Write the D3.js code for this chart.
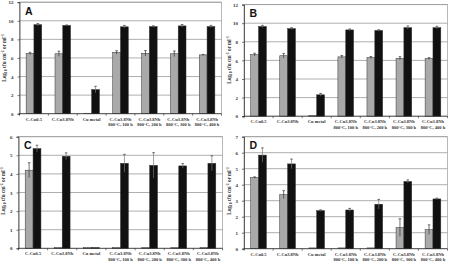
<!DOCTYPE html>
<html>
<head>
<meta charset="utf-8">
<script src="https://cdn.jsdelivr.net/npm/d3@7/dist/d3.min.js"></script>
<style>
body { margin: 0; background: #fff; }
svg text { font-family: "Liberation Serif", "DejaVu Serif", serif; }
</style>
</head>
<body>
<div id="chart"></div>
<script>
chart_width = 450;
chart_height = 263;

categories = [
	['C-Cu0.5'],
	['C-Cu3.8Nb'],
	['Cu metal'],
	['C-Cu3.8Nb', '800°C, 100 h'],
	['C-Cu3.8Nb', '800°C, 200 h'],
	['C-Cu3.8Nb', '800°C, 300 h'],
	['C-Cu3.8Nb', '800°C, 400 h']
];

// panel A
a_grey = [6.48, 6.45, 0.05, 6.6, 6.5, 6.45, 6.33];
a_grey_err = [0.12, 0.28, 0, 0.18, 0.3, 0.3, 0.05];
a_black = [9.58, 9.5, 2.6, 9.35, 9.38, 9.45, 9.38];
a_black_err = [0.12, 0.05, 0.35, 0.15, 0.08, 0.15, 0.12];
a_ticks = [0, 2, 4, 6, 8, 10, 12];

// panel B
b_grey = [6.62, 6.5, 0.05, 6.38, 6.3, 6.22, 6.2];
b_grey_err = [0.15, 0.25, 0, 0.15, 0.12, 0.18, 0.1];
b_black = [9.65, 9.42, 2.3, 9.28, 9.22, 9.52, 9.52];
b_black_err = [0.12, 0.1, 0.15, 0.1, 0.08, 0.18, 0.15];
b_ticks = [0, 2, 4, 6, 8, 10, 12];

// panel C
c_grey = [4.2, 0.04, 0.04, 0.04, 0.04, 0.04, 0.04];
c_grey_err = [0.4, 0, 0, 0, 0, 0, 0];
c_black = [5.36, 4.95, 0.04, 4.57, 4.46, 4.43, 4.57];
c_black_err = [0.18, 0.18, 0, 0.48, 0.68, 0.12, 0.4];
c_ticks = [0, 1, 2, 3, 4, 5, 6];

// panel D
d_grey = [4.45, 3.38, 0.05, 0.05, 0.05, 1.32, 1.19];
d_grey_err = [0.04, 0.25, 0, 0, 0, 0.55, 0.3];
d_black = [5.85, 5.3, 2.38, 2.42, 2.78, 4.2, 3.11];
d_black_err = [0.45, 0.3, 0.05, 0.1, 0.3, 0.1, 0.05];
d_ticks = [0, 1, 2, 3, 4, 5, 6, 7];

panels = [
	{ letter: 'A', grey: a_grey, grey_err: a_grey_err, black: a_black, black_err: a_black_err, ticks: a_ticks,
	  x0: 19.5, x1: 221.5, y0: 113.7, y1: 2.2, label_y: 58, label_x: 6 },
	{ letter: 'B', grey: b_grey, grey_err: b_grey_err, black: b_black, black_err: b_black_err, ticks: b_ticks,
	  x0: 244, x1: 447.5, y0: 116.2, y1: 4.6, label_y: 60, label_x: 231 },
	{ letter: 'C', grey: c_grey, grey_err: c_grey_err, black: c_black, black_err: c_black_err, ticks: c_ticks,
	  x0: 18.5, x1: 222.5, y0: 248.3, y1: 136.7, label_y: 191, label_x: 5 },
	{ letter: 'D', grey: d_grey, grey_err: d_grey_err, black: d_black, black_err: d_black_err, ticks: d_ticks,
	  x0: 244, x1: 447.5, y0: 248.7, y1: 136.7, label_y: 191, label_x: 231 }
];

svg = d3.select('#chart')
	.append('svg')
	.attr('width', chart_width)
	.attr('height', chart_height);

panels.forEach(function(p) {
	g = svg.append('g');

	x_scale = d3.scaleBand()
		.domain(d3.range(categories.length))
		.range([p.x0, p.x1])
		.paddingInner(0.46)
		.paddingOuter(0.23);

	series_scale = d3.scaleBand()
		.domain(['grey', 'black'])
		.range([0, x_scale.bandwidth()]);

	y_scale = d3.scaleLinear()
		.domain([0, d3.max(p.ticks)])
		.range([p.y0, p.y1]);

	// gridlines
	g.selectAll('line.grid')
		.data(p.ticks.slice(1))
		.enter()
		.append('line')
		.attr('x1', p.x0)
		.attr('x2', p.x1)
		.attr('y1', (d) => y_scale(d))
		.attr('y2', (d) => y_scale(d))
		.attr('stroke', '#8c8c8c')
		.attr('stroke-width', 0.7);

	// plot border
	g.append('rect')
		.attr('x', p.x0)
		.attr('y', p.y1)
		.attr('width', p.x1 - p.x0)
		.attr('height', p.y0 - p.y1)
		.attr('fill', 'none')
		.attr('stroke', '#9a9a9a')
		.attr('stroke-width', 0.7);

	// bars
	series = [
		{ key: 'grey', vals: p.grey, errs: p.grey_err, fill: '#a9a9a9' },
		{ key: 'black', vals: p.black, errs: p.black_err, fill: '#111111' }
	];
	series.forEach(function(s) {
		g.selectAll('rect.bar-' + s.key)
			.data(s.vals)
			.enter()
			.append('rect')
			.attr('x', (d, i) => x_scale(i) + series_scale(s.key))
			.attr('y', (d) => y_scale(d))
			.attr('width', series_scale.bandwidth())
			.attr('height', (d) => y_scale(0) - y_scale(d))
			.attr('fill', s.fill)
			.attr('stroke', '#333')
			.attr('stroke-width', 0.5);

		// error bars
		err_g = g.selectAll('g.err-' + s.key)
			.data(s.vals.map((v, i) => ({ v: v, e: s.errs[i], i: i })).filter((d) => d.e > 0))
			.enter()
			.append('g');
		err_g.append('line')
			.attr('x1', (d) => x_scale(d.i) + series_scale(s.key) + series_scale.bandwidth() / 2)
			.attr('x2', (d) => x_scale(d.i) + series_scale(s.key) + series_scale.bandwidth() / 2)
			.attr('y1', (d) => y_scale(Math.max(0, d.v - d.e)))
			.attr('y2', (d) => y_scale(d.v + d.e))
			.attr('stroke', s.key === 'grey' ? '#333' : '#777')
			.attr('stroke-width', 0.7);
		err_g.append('line')
			.attr('x1', (d) => x_scale(d.i) + series_scale(s.key) + series_scale.bandwidth() / 2 - 1.3)
			.attr('x2', (d) => x_scale(d.i) + series_scale(s.key) + series_scale.bandwidth() / 2 + 1.3)
			.attr('y1', (d) => y_scale(d.v + d.e))
			.attr('y2', (d) => y_scale(d.v + d.e))
			.attr('stroke', '#333')
			.attr('stroke-width', 0.7);
	});

	// y axis
	y_axis = d3.axisLeft(y_scale)
		.tickValues(p.ticks)
		.tickSize(2)
		.tickPadding(4)
		.tickFormat(d3.format('d'));
	ya = g.append('g')
		.attr('transform', 'translate(' + p.x0 + ',0)')
		.call(y_axis);
	ya.select('.domain').attr('stroke', '#222').attr('stroke-width', 0.7);
	ya.selectAll('.tick line').attr('stroke', '#222').attr('stroke-width', 0.6);
	ya.selectAll('.tick text')
		.attr('font-size', 5)
		.attr('font-weight', 'bold')
		.attr('fill', '#333');

	// x axis line with ticks between categories
	g.append('line')
		.attr('x1', p.x0)
		.attr('x2', p.x1)
		.attr('y1', y_scale(0))
		.attr('y2', y_scale(0))
		.attr('stroke', '#222')
		.attr('stroke-width', 0.7);
	g.selectAll('line.xtick')
		.data(d3.range(categories.length + 1))
		.enter()
		.append('line')
		.attr('x1', (d) => p.x0 + d * x_scale.step())
		.attr('x2', (d) => p.x0 + d * x_scale.step())
		.attr('y1', y_scale(0))
		.attr('y2', y_scale(0) + 2)
		.attr('stroke', '#222')
		.attr('stroke-width', 0.6);

	// category labels
	base_y = y_scale(0) + 7;
	categories.forEach(function(lines, i) {
		cx = x_scale(i) + x_scale.bandwidth() / 2;
		t = g.append('text')
			.attr('text-anchor', 'middle')
			.attr('font-size', 4.5)
			.attr('font-weight', 'bold')
			.attr('fill', '#333');
		lines.forEach(function(line, j) {
			t.append('tspan')
				.attr('x', cx)
				.attr('y', base_y + j * 5.4)
				.text(line);
		});
	});

	// y axis title
	title = g.append('text')
		.attr('transform', 'translate(' + p.label_x + ',' + p.label_y + ') rotate(-90)')
		.attr('text-anchor', 'middle')
		.attr('font-size', 5.2)
		.attr('font-weight', 'bold')
		.attr('fill', '#333');
	title.append('tspan').text('Log');
	title.append('tspan').attr('font-size', 3.6).attr('dy', 1.2).text('10');
	title.append('tspan').attr('dy', -1.2).text(' cfu cm');
	title.append('tspan').attr('font-size', 3.6).attr('dy', -1.8).text('-2');
	title.append('tspan').attr('dy', 1.8).text(' or ml');
	title.append('tspan').attr('font-size', 3.6).attr('dy', -1.8).text('-1');

	// panel letter (sans-serif, set as style so it wins over the css rule)
	g.append('text')
		.attr('x', p.x0 + 5.5)
		.attr('y', p.y1 + 12.5)
		.style('font-family', '"Liberation Sans", Arial, sans-serif')
		.attr('font-size', 10.5)
		.attr('font-weight', 'bold')
		.attr('fill', '#111')
		.text(p.letter);
});
</script>
</body>
</html>
